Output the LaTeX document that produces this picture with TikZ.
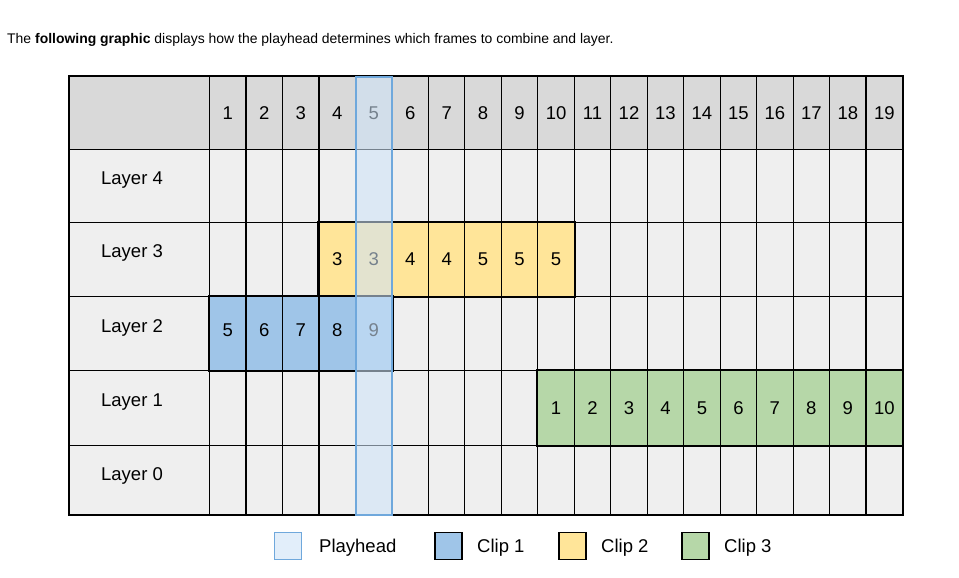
\documentclass[tikz,border=0pt]{standalone}
\usepackage{fontspec}
\setmainfont{Liberation Sans}
\definecolor{hdr}{RGB}{217,217,217}
\definecolor{cellbg}{RGB}{239,239,239}
\definecolor{clipblue}{RGB}{159,197,232}
\definecolor{clipyellow}{RGB}{255,229,153}
\definecolor{clipgreen}{RGB}{182,215,168}
\definecolor{phfill}{RGB}{206,227,248}
\definecolor{phline}{RGB}{111,168,220}
\definecolor{phlegend}{RGB}{226,238,250}
\begin{document}
\begin{tikzpicture}[x=1pt,y=-1pt,
  cell/.style={draw=black,line width=1.2pt,inner sep=0pt,anchor=north west,fill=cellbg,
    font=\fontsize{18.5}{21}\selectfont},
  clipline/.style={draw=black,line width=1.9pt},
  playhead/.style={draw=phline,line width=1.8pt,fill=phfill,fill opacity=0.57,inner sep=0pt,anchor=north west},
  lab/.style={font=\fontsize{18.5}{21}\selectfont},
  legbox/.style={line width=1.5pt,minimum width=27pt,minimum height=27pt,inner sep=0pt},
]
\useasboundingbox (0,0) rectangle (959,578);
\def\cw{36.47}
% title
\node[anchor=base west,inner sep=0pt,font=\fontsize{13.95}{16}\selectfont] (title) at (7,44)
  {The \textbf{following graphic} displays how the playhead determines which frames to combine and layer.};
% grid
\foreach \r/\top/\h in {0/76/73,1/149/73,2/222/74,3/296/74,4/370/75,5/445/69}{
  \ifnum\r=0
    \node[cell,fill=hdr,minimum width=140pt,minimum height=\h pt] (c\r-0) at (69,\top) {};
  \else
    \node[cell,minimum width=140pt,minimum height=\h pt] (c\r-0) at (69,\top) {};
  \fi
  \foreach \c in {1,...,19}{
    \pgfmathsetmacro{\xx}{209+\cw*(\c-1)}
    \ifnum\r=0
      \node[cell,fill=hdr,minimum width=\cw pt,minimum height=\h pt] (c\r-\c) at (\xx,\top) {\c};
    \else
      \node[cell,minimum width=\cw pt,minimum height=\h pt] (c\r-\c) at (\xx,\top) {};
    \fi
  }
}
% layer labels
\node[lab] (l4) at (132,180) {Layer 4};
\node[lab] (l3) at (132,253) {Layer 3};
\node[lab] (l2) at (132,328) {Layer 2};
\node[lab] (l1) at (132,402) {Layer 1};
\node[lab] (l0) at (132,476) {Layer 0};
% clip 2 (layer 3)
\foreach \c/\t in {4/3,5/3,6/4,7/4,8/5,9/5,10/5}{
  \pgfmathsetmacro{\xx}{209+\cw*(\c-1)}
  \node[cell,fill=clipyellow,minimum width=\cw pt,minimum height=74pt] (y-\c) at (\xx,222) {\t};
}
\draw[clipline] (y-4.north west) rectangle (y-10.south east);
% clip 1 (layer 2)
\foreach \c/\t in {1/5,2/6,3/7,4/8,5/9}{
  \pgfmathsetmacro{\xx}{209+\cw*(\c-1)}
  \node[cell,fill=clipblue,minimum width=\cw pt,minimum height=74pt] (b-\c) at (\xx,296) {};
  \node[lab] (bt-\c) at ([yshift=3pt]b-\c.center) {\t};
}
\draw[clipline] (b-1.north west) rectangle (b-5.south east);
% clip 3 (layer 1)
\foreach \c/\t in {10/1,11/2,12/3,13/4,14/5,15/6,16/7,17/8,18/9,19/10}{
  \pgfmathsetmacro{\xx}{209+\cw*(\c-1)}
  \node[cell,fill=clipgreen,minimum width=\cw pt,minimum height=75pt] (g-\c) at (\xx,370) {\t};
}
\draw[clipline] (g-10.north west) rectangle (g-19.south east);
% outer border
\draw[line width=1.5pt] (c0-0.north west) rectangle (c5-19.south east);
% playhead
\node[playhead,minimum width=\cw pt,minimum height=438pt] (ph) at (c0-5.north west) {};
% legend
\node[legbox,draw=phline,fill=phlegend] (k0) at (288,546) {};
\node[lab,anchor=west,inner sep=0pt] (t0) at (319,547.5) {Playhead};
\node[legbox,draw=black,fill=clipblue] (k1) at (448.5,546) {};
\node[lab,anchor=west,inner sep=0pt] (t1) at (477,547.5) {Clip 1};
\node[legbox,draw=black,fill=clipyellow] (k2) at (572.5,546) {};
\node[lab,anchor=west,inner sep=0pt] (t2) at (601,547.5) {Clip 2};
\node[legbox,draw=black,fill=clipgreen] (k3) at (695.5,546) {};
\node[lab,anchor=west,inner sep=0pt] (t3) at (724,547.5) {Clip 3};
\end{tikzpicture}
\end{document}
